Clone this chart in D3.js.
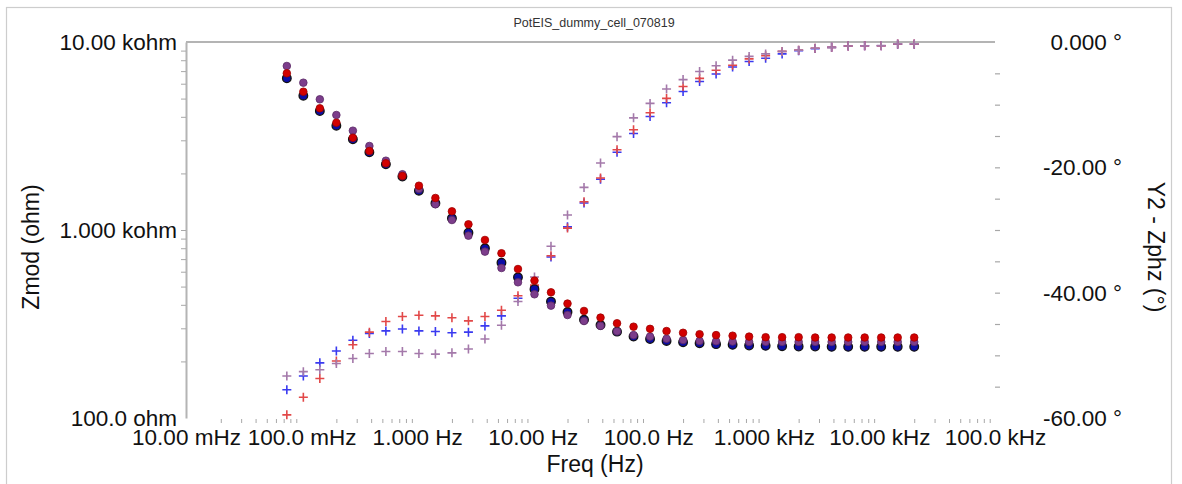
<!DOCTYPE html>
<html>
<head>
<meta charset="utf-8">
<script src="https://cdn.jsdelivr.net/npm/d3@7"></script>
<style>
  html, body { margin: 0; padding: 0; background: #fff; }
  svg { display: block; font-family: "Liberation Sans", Arial, sans-serif; }
</style>
</head>
<body>
<svg id="chart" width="1182" height="484"></svg>
<script>
// Impedance sweep of a dummy cell, three runs (red, blue, purple)
const chartTitle = "PotEIS_dummy_cell_070819";

const freqHz = [0.07455, 0.1036, 0.1439, 0.2, 0.2779, 0.3861, 0.5365, 0.7455,
  1.036, 1.439, 2.0, 2.779, 3.861, 5.365, 7.455, 10.36, 14.39, 20.0, 27.79, 38.61,
  53.65, 74.55, 103.6, 143.9, 200.0, 277.9, 386.1, 536.5, 745.5, 1036, 1439, 2000,
  2779, 3861, 5365, 7455, 10360, 14390, 20000];

// |Z| in ohm
const zmodRed = [6817, 5440, 4440, 3721, 3097, 2632, 2263, 1938, 1720, 1480, 1257,
  1072, 885, 752, 620, 538, 466, 406, 371, 342, 319, 306, 298, 290, 284, 279, 276,
  274, 271, 269, 269, 269, 268, 268, 268, 268, 268, 268, 268];
const zmodBlue = [6410, 5180, 4295, 3587, 3037, 2591, 2236, 1926, 1618, 1387, 1154,
  967, 799, 670, 560, 484, 416, 366, 333, 312, 288, 271, 263, 257, 253, 250, 247,
  245, 243, 242, 241, 240, 240, 239, 239, 239, 239, 239, 239];
const zmodPurple = [7453, 6076, 4957, 4089, 3375, 2798, 2337, 1979, 1652, 1370, 1130,
  933, 767, 628, 527, 455, 396, 353, 328, 309, 289, 276, 271, 264, 260, 257, 256,
  255, 254, 254, 254, 254, 254, 254, 254, 254, 254, 254, 254];

// Phase in degrees
const zphzRed = [-59.5, -56.7, -53.7, -50.9, -48.3, -46.3, -44.6, -43.8, -43.6, -43.7,
  -44.0, -44.5, -43.8, -42.8, -40.5, -38.8, -34.1, -29.7, -25.5, -21.7, -17.2, -14.0,
  -11.3, -9.0, -7.1, -5.8, -4.5, -3.7, -2.7, -2.2, -1.5, -1.3, -1.0, -0.85, -0.65,
  -0.6, -0.6, -0.3, -0.3];
const zphzBlue = [-55.5, -53.3, -51.2, -49.3, -47.6, -46.5, -46.1, -45.8, -46.1, -46.2,
  -46.4, -46.3, -45.3, -43.7, -40.9, -39.0, -34.3, -29.5, -25.7, -21.9, -17.6, -14.6,
  -11.9, -9.7, -7.9, -6.3, -5.1, -4.0, -3.1, -2.6, -1.9, -1.4, -1.05, -0.85, -0.65,
  -0.6, -0.6, -0.35, -0.35];
const zphzPurple = [-53.3, -52.6, -52.3, -51.3, -50.5, -49.7, -49.4, -49.4, -49.7, -49.8,
  -49.6, -49.0, -47.4, -45.2, -41.4, -37.5, -32.6, -27.6, -23.2, -19.3, -15.1, -12.1,
  -9.8, -7.5, -6.0, -4.7, -3.8, -2.9, -2.3, -1.9, -1.5, -1.3, -1.0, -0.85, -0.65,
  -0.6, -0.55, -0.3, -0.3];

// Axis ticks
const xTickValues = [0.01, 0.1, 1, 10, 100, 1000, 10000, 100000];
const xTickLabels = ["10.00 mHz", "100.0 mHz", "1.000 Hz", "10.00 Hz", "100.0 Hz",
  "1.000 kHz", "10.00 kHz", "100.0 kHz"];
const zTickValues = [100, 1000, 10000];
const zTickLabels = ["100.0 ohm", "1.000 kohm", "10.00 kohm"];
const phzTickValues = [0, -20, -40, -60];
const phzTickLabels = ["0.000 °", "-20.00 °", "-40.00 °", "-60.00 °"];

const plot = { left: 186, right: 995, top: 42, bottom: 418 };
const svg = d3.select("#chart");

const x = d3.scaleLog().domain([0.01, 100000]).range([plot.left, plot.right]);
const yZ = d3.scaleLog().domain([100, 10000]).range([plot.bottom, plot.top]);
const yP = d3.scaleLinear().domain([-60, 0]).range([plot.bottom, plot.top]);

const textColor = "#111";
const axisGray = "#b4b4b4";
const tickGray = "#a8a8a8";
const labelSize = 22.5;

// Outer frame
svg.append("rect")
  .attr("x", 6.5).attr("y", 7.5).attr("width", 1165).attr("height", 520)
  .attr("fill", "none").attr("stroke", "#cdcdcd").attr("stroke-width", 1.2);

// Title
svg.append("text")
  .attr("x", 594).attr("y", 27)
  .attr("text-anchor", "middle")
  .attr("font-size", 12.5).attr("fill", "#333")
  .text(chartTitle);

// Top border of the plot area
svg.append("line")
  .attr("x1", plot.left).attr("x2", plot.right)
  .attr("y1", plot.top).attr("y2", plot.top)
  .attr("stroke", axisGray).attr("stroke-width", 2);

// Minor tick positions for log axes
function logMinor(lo, hi) {
  const out = [];
  for (let d = lo; d < hi; d *= 10) {
    for (let k = 2; k <= 9; k++) out.push(d * k);
  }
  return out;
}

// Frequency axis: dotted minor ticks
const xMinor = svg.append("g")
  .attr("transform", `translate(0,${plot.bottom + 1})`)
  .call(d3.axisBottom(x).tickValues(logMinor(0.01, 100000)).tickSize(4).tickFormat(""));
xMinor.select(".domain").remove();
xMinor.selectAll(".tick line").attr("stroke", tickGray).attr("stroke-width", 1);

// Frequency axis labels
const xLab = svg.append("g")
  .attr("transform", `translate(0,${plot.bottom})`)
  .call(d3.axisBottom(x).tickValues(xTickValues)
    .tickFormat((d, i) => xTickLabels[i]).tickSize(0).tickPadding(11));
xLab.select(".domain").remove();
xLab.selectAll("text").attr("font-size", labelSize).attr("fill", textColor)
  .attr("font-family", "Liberation Sans, Arial, sans-serif");

// |Z| axis: line and minor ticks
const zAxis = svg.append("g")
  .attr("transform", `translate(${plot.left},0)`)
  .call(d3.axisLeft(yZ).tickValues(logMinor(100, 10000).concat([1000]))
    .tickSize(5).tickSizeOuter(0).tickFormat(""));
zAxis.select(".domain").attr("stroke", axisGray).attr("stroke-width", 2);
zAxis.selectAll(".tick line").attr("stroke", tickGray).attr("stroke-width", 1);

// |Z| axis labels
const zLab = svg.append("g")
  .attr("transform", `translate(${plot.left},0)`)
  .call(d3.axisLeft(yZ).tickValues(zTickValues)
    .tickFormat((d, i) => zTickLabels[i]).tickSize(0).tickPadding(9));
zLab.select(".domain").remove();
zLab.selectAll("text").attr("font-size", labelSize).attr("fill", textColor)
  .attr("font-family", "Liberation Sans, Arial, sans-serif");

// Phase axis: short dashes every 5 degrees
const pMinor = d3.range(-55, 0, 5);
const pAxis = svg.append("g")
  .attr("transform", `translate(${plot.right},0)`)
  .call(d3.axisRight(yP).tickValues(pMinor).tickSize(5).tickFormat(""));
pAxis.select(".domain").remove();
pAxis.selectAll(".tick line").attr("stroke", tickGray).attr("stroke-width", 1.2);

// Phase axis labels (right aligned)
svg.append("g").selectAll("text")
  .data(phzTickValues)
  .join("text")
  .attr("x", 1122)
  .attr("y", d => yP(d))
  .attr("dy", "0.35em")
  .attr("text-anchor", "end")
  .attr("font-size", labelSize).attr("fill", textColor)
  .text((d, i) => phzTickLabels[i]);

// Axis titles
svg.append("text")
  .attr("transform", "translate(39,247) rotate(-90)")
  .attr("text-anchor", "middle")
  .attr("font-size", 23).attr("fill", textColor)
  .text("Zmod (ohm)");

svg.append("text")
  .attr("transform", "translate(1148,247) rotate(90)")
  .attr("text-anchor", "middle")
  .attr("font-size", 23).attr("fill", textColor)
  .text("Y2 - Zphz (°)");

svg.append("text")
  .attr("x", 595).attr("y", 472)
  .attr("text-anchor", "middle")
  .attr("font-size", 23).attr("fill", textColor)
  .text("Freq (Hz)");

// Phase markers: plus signs
const plusPath = "M-4.5,0H4.5M0,-4.5V4.5";
const phaseSeries = [
  { values: zphzBlue, color: "#3a3af0" },
  { values: zphzRed, color: "#e24848" },
  { values: zphzPurple, color: "#a479aa" }
];
phaseSeries.forEach(s => {
  svg.append("g").selectAll("path")
    .data(freqHz.map((f, i) => [f, s.values[i]]))
    .join("path")
    .attr("transform", d => `translate(${x(d[0])},${yP(d[1])})`)
    .attr("d", plusPath)
    .attr("fill", "none")
    .attr("stroke", s.color)
    .attr("stroke-width", 1.6);
});

// |Z| markers: filled dots
const zmodSeries = [
  { values: zmodBlue, fill: "#0c0ca6", stroke: "#111", r: 4.3, sw: 1.3 },
  { values: zmodPurple, fill: "#7c3d8b", stroke: "#5a2a66", r: 3.8, sw: 0.8 },
  { values: zmodRed, fill: "#d20000", stroke: "#a00000", r: 3.8, sw: 0.8 }
];
zmodSeries.forEach(s => {
  svg.append("g").selectAll("circle")
    .data(freqHz.map((f, i) => [f, s.values[i]]))
    .join("circle")
    .attr("cx", d => x(d[0]))
    .attr("cy", d => yZ(d[1]))
    .attr("r", s.r)
    .attr("fill", s.fill)
    .attr("stroke", s.stroke)
    .attr("stroke-width", s.sw);
});
</script>
</body>
</html>
